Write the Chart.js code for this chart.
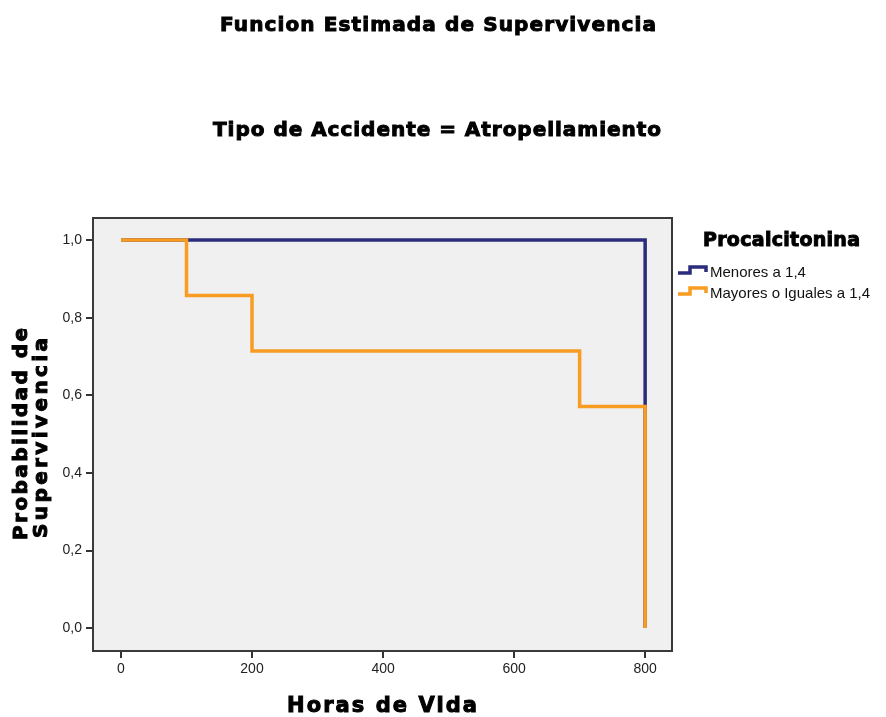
<!DOCTYPE html>
<html>
<head>
<meta charset="utf-8">
<script src="https://cdn.jsdelivr.net/npm/chart.js@4.4.1/dist/chart.umd.min.js"></script>
<style>
  html, body { margin: 0; padding: 0; background: #fff; }
  #wrap { width: 886px; height: 717px; position: relative; }
</style>
</head>
<body>
<div id="wrap"><canvas id="km" width="886" height="717"></canvas></div>
<script>
// Kaplan-Meier: survival by procalcitonin group
const mainTitle = 'Funcion Estimada de Supervivencia';
const subTitle = 'Tipo de Accidente = Atropellamiento';
const xTitle = 'Horas de Vida';
const yTitleLines = ['Probabilidad de', 'Supervivencia'];
const legendTitle = 'Procalcitonina';
const groupNames = ['Menores a 1,4', 'Mayores o Iguales a 1,4'];

const menoresTimes = [0, 800];
const menoresSurv = [1.0, 0.0];
const mayoresTimes = [0, 100, 200, 700, 800];
const mayoresSurv = [1.0, 0.857, 0.714, 0.571, 0.0];

const xTicks = [0, 200, 400, 600, 800];
const yTicks = [0, 0.2, 0.4, 0.6, 0.8, 1.0];

const blue = '#2b2d7c';
const orange = '#f89c22';

function toPoints(xs, ys){ return xs.map((x, i) => ({ x, y: ys[i] })); }

// heavy text stretched to a target width with letter spacing
function spacedText(ctx, text, x, y, width, font){
  ctx.font = font;
  ctx.letterSpacing = '0px';
  const w = ctx.measureText(text).width;
  const sp = (width - w) / (text.length - 1);
  ctx.letterSpacing = sp + 'px';
  ctx.textAlign = 'left';
  ctx.textBaseline = 'middle';
  ctx.fillText(text, x, y);
  ctx.lineWidth = 1;
  ctx.strokeStyle = ctx.fillStyle;
  ctx.strokeText(text, x, y);
  ctx.letterSpacing = '0px';
}

const decor = {
  id: 'decor',
  beforeDatasetsDraw(chart){
    const { ctx, chartArea: a } = chart;
    ctx.save();
    ctx.fillStyle = '#f0f0f0';
    ctx.fillRect(a.left, a.top, a.right - a.left, a.bottom - a.top);
    ctx.restore();
  },
  afterDraw(chart){
    const { ctx, chartArea: a } = chart;
    ctx.save();
    ctx.strokeStyle = '#3a3a3a';
    ctx.lineWidth = 2;
    ctx.strokeRect(a.left, a.top, a.right - a.left, a.bottom - a.top);

    ctx.fillStyle = '#000';
    const bold = 'bold 20px "DejaVu Sans"';
    spacedText(ctx, mainTitle, 220, 26, 436, bold);
    spacedText(ctx, subTitle, 213, 131, 448, bold);
    spacedText(ctx, xTitle, 287, 707, 190, 'bold 21px "DejaVu Sans"');

    // rotated y title
    ctx.save();
    ctx.translate(22, 540);
    ctx.rotate(-Math.PI / 2);
    spacedText(ctx, yTitleLines[0], 0, 0, 212, bold);
    ctx.restore();
    ctx.save();
    ctx.translate(42, 538);
    ctx.rotate(-Math.PI / 2);
    spacedText(ctx, yTitleLines[1], 0, 0, 200, bold);
    ctx.restore();

    // legend
    spacedText(ctx, legendTitle, 703, 241, 157, 'bold 19px "DejaVu Sans"');
    const colors = [blue, orange];
    const rowsY = [272, 293];
    ctx.lineWidth = 3.5;
    ctx.lineCap = 'butt';
    ctx.lineJoin = 'miter';
    groupNames.forEach((name, i) => {
      const y = rowsY[i];
      ctx.strokeStyle = colors[i];
      ctx.beginPath();
      ctx.moveTo(678, y + 1);
      ctx.lineTo(690, y + 1);
      ctx.lineTo(690, y - 5);
      ctx.lineTo(706, y - 5);
      ctx.lineTo(706, y);
      ctx.stroke();
      ctx.fillStyle = '#111';
      ctx.font = '15px "Liberation Sans"';
      ctx.textAlign = 'left';
      ctx.textBaseline = 'middle';
      ctx.fillText(name, 710, y + 1);
    });
    ctx.restore();
  }
};

const tickFont = { family: '"Liberation Sans"', size: 14 };

new Chart(document.getElementById('km'), {
  type: 'line',
  data: {
    datasets: [
      { label: groupNames[0], data: toPoints(menoresTimes, menoresSurv), borderColor: blue, order: 2 },
      { label: groupNames[1], data: toPoints(mayoresTimes, mayoresSurv), borderColor: orange, order: 1 }
    ].map(d => Object.assign(d, {
      stepped: true, borderWidth: 3.5, pointRadius: 0, fill: false,
      borderCapStyle: 'butt', borderJoinStyle: 'miter'
    }))
  },
  options: {
    responsive: false,
    animation: false,
    layout: { padding: { top: 218, right: 214, left: 0, bottom: 0 } },
    plugins: { legend: { display: false }, tooltip: { enabled: false }, title: { display: false } },
    scales: {
      x: {
        type: 'linear', min: -42.7, max: 841,
        afterBuildTicks: s => { s.ticks = xTicks.map(v => ({ value: v })); },
        afterFit: s => { s.height = 66; },
        border: { display: false },
        grid: { drawOnChartArea: false, drawTicks: true, tickLength: 7, tickColor: '#333', lineWidth: 2 },
        ticks: { color: '#222', font: tickFont, padding: 3, maxRotation: 0 }
      },
      y: {
        type: 'linear', min: -0.059, max: 1.057,
        afterBuildTicks: s => { s.ticks = yTicks.map(v => ({ value: v })); },
        afterFit: s => { s.width = 93; },
        border: { display: false },
        grid: { drawOnChartArea: false, drawTicks: true, tickLength: 7, tickColor: '#333', lineWidth: 2 },
        ticks: { color: '#222', font: tickFont, padding: 4, callback: v => v.toFixed(1).replace('.', ',') }
      }
    }
  },
  plugins: [decor]
});
</script>
</body>
</html>
